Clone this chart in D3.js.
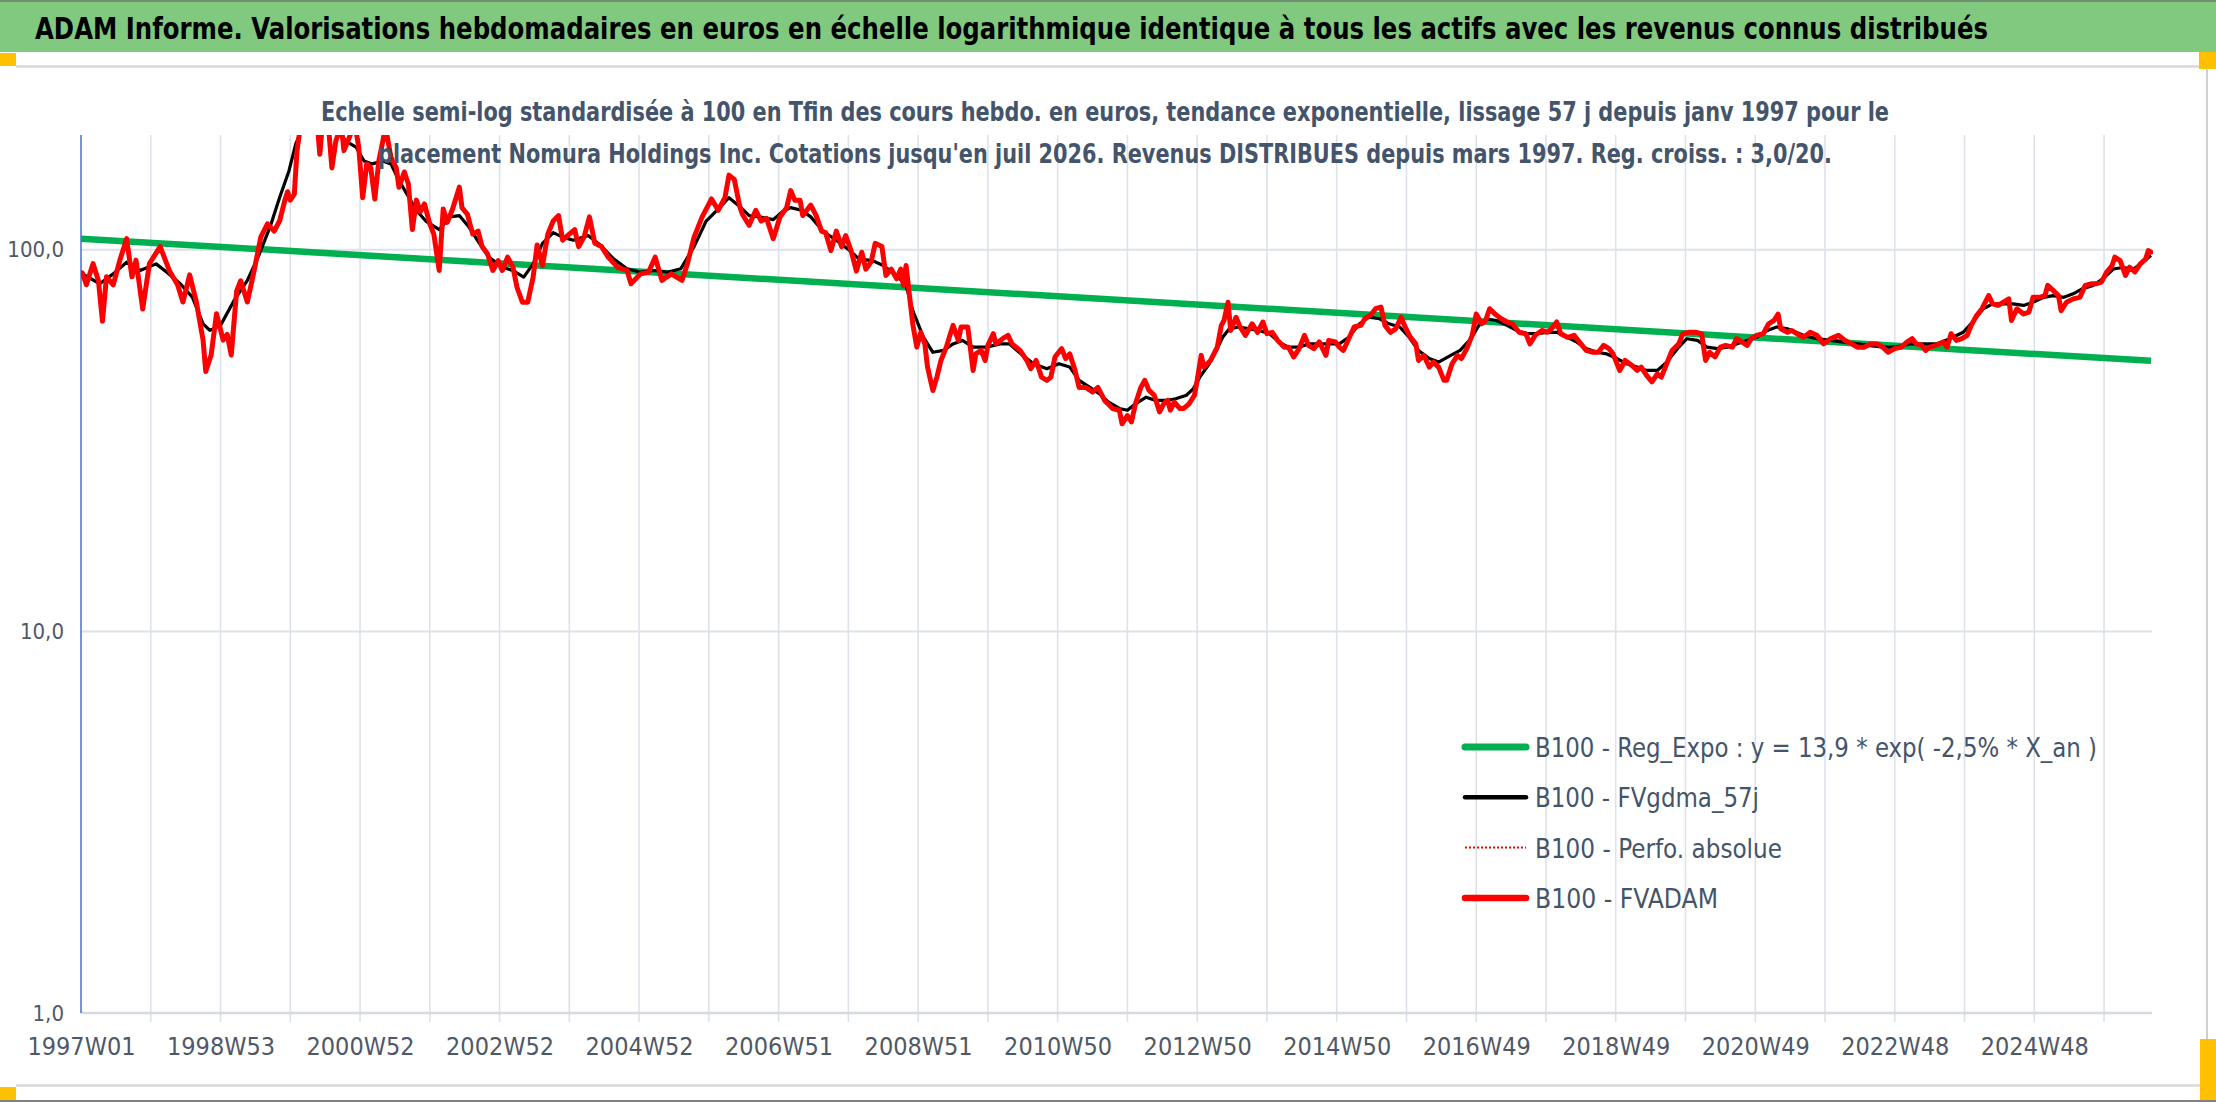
<!DOCTYPE html>
<html>
<head>
<meta charset="utf-8">
<script src="https://cdn.jsdelivr.net/npm/d3@7"></script>
<style>
  html, body { margin: 0; padding: 0; background: #ffffff; }
  svg { display: block; }
</style>
</head>
<body>
<svg id="chart" width="2216" height="1102"></svg>
<script>
// ---------------- DATA ----------------
const titleText = "ADAM Informe. Valorisations hebdomadaires en euros en échelle logarithmique identique à tous les actifs avec les revenus connus distribués";
const subtitleLines = [
  "Echelle semi-log standardisée à 100 en Tfin des cours hebdo. en euros, tendance exponentielle, lissage 57 j depuis janv 1997 pour le",
  "placement Nomura Holdings Inc. Cotations jusqu'en juil 2026. Revenus DISTRIBUES depuis mars 1997. Reg. croiss. : 3,0/20."
];
const legendLabels = [
  "B100 - Reg_Expo : y = 13,9 * exp( -2,5% *  X_an )",
  "B100 - FVgdma_57j",
  "B100 - Perfo. absolue",
  "B100 - FVADAM"
];
const nWeeks = 1544;                 // weekly categories 1997W01 .. 2026W30
const labelEvery = 104;              // category label interval
const gridEvery = 52;                // tick mark interval
const xTickLabels = ["1997W01","1998W53","2000W52","2002W52","2004W52","2006W51","2008W51",
  "2010W50","2012W50","2014W50","2016W49","2018W49","2020W49","2022W48","2024W48"];
const yTicks = [1, 10, 100];
const yDomain = [1, 200];

// exponential regression (values at first and last week)
const regExpo = [[0, 107], [1543, 51.2]];

// smoothed series FVgdma_57j : [week index, value]
const fvgdma = [[0,86],[1,86.5],[14,81.5],[24,86.5],[34,92.8],[44,88.3],[56,91.9],[64,87.4],[74,81.5],[83,75.2],[91,64],[96,61.5],[104,63.4],[114,73.6],[124,83.2],[132,95.7],[141,115],[148,137],[155,161],[160,189],[164,205],[172,218],[180,225],[188,220],[197,193],[205,186],[211,171],[217,168],[225,171],[231,168],[237,152],[243,140],[250,127],[257,119],[267,113],[275,122],[282,123],[289,115],[297,104],[304,95.7],[314,90],[322,88.3],[330,84.8],[337,91.9],[344,104],[352,111],[359,108],[367,106],[378,109],[387,103],[397,94.7],[407,89.2],[417,87.4],[427,88.3],[437,87.4],[447,89.2],[457,102],[466,119],[476,129],[483,137],[491,130],[498,123],[506,122],[516,120],[523,126],[529,129],[537,127],[544,122],[553,112],[563,106],[573,99.6],[580,94.6],[590,93.7],[598,91],[608,85.7],[615,80.7],[620,69.3],[628,59],[635,53.9],[643,54.5],[650,56.7],[657,57.9],[665,55.6],[675,55.6],[685,56.7],[692,56.7],[702,52.9],[710,50.3],[720,48.8],[729,50.3],[737,49.3],[744,45.5],[752,43.6],[759,42],[766,39.9],[774,38.4],[780,38],[786,39.5],[794,41.1],[801,40.3],[809,40.3],[816,40.7],[824,41.6],[829,43.2],[834,46.4],[841,50.3],[847,55.1],[851,59],[856,62.1],[863,62.8],[871,62.1],[878,61.5],[886,60.3],[893,57.3],[900,55.6],[908,55.6],[915,56.7],[923,56.7],[930,56.7],[938,56.7],[945,59],[953,64],[960,66.6],[968,66],[975,64],[983,62.8],[990,59],[997,54.5],[1005,51.9],[1012,50.8],[1021,52.9],[1028,54.5],[1036,58.5],[1042,63.4],[1048,65.9],[1055,65.3],[1063,63.4],[1070,61.5],[1078,60.3],[1085,60.3],[1093,60.8],[1100,60.8],[1108,59],[1115,57.3],[1122,55.1],[1130,53.9],[1137,53.4],[1145,51.9],[1152,50.3],[1160,49.3],[1167,48.3],[1175,48.3],[1182,50.8],[1190,55.1],[1197,58.5],[1205,57.9],[1212,55.6],[1220,55.1],[1227,55.6],[1234,56.7],[1242,57.9],[1249,59],[1257,61.5],[1264,62.8],[1272,62.1],[1284,59.7],[1294,58.5],[1304,57.9],[1314,57.3],[1324,56.7],[1334,56.2],[1343,55.6],[1353,55.6],[1363,56.7],[1373,56.7],[1383,56.7],[1393,58.5],[1403,60.8],[1411,65.3],[1418,70.1],[1425,72.2],[1433,72.2],[1440,72.2],[1448,71.5],[1455,72.9],[1463,75.1],[1470,75.9],[1478,75.1],[1485,76.7],[1492,79.1],[1500,80.7],[1507,84],[1515,89.1],[1522,89.9],[1530,89.1],[1537,92.9],[1543,96.6]];

// FVADAM weekly valuation : [week index, value]
const fvadam = [[0,86],[1,87],[4,81],[9,92],[13,83],[16,65],[19,85],[24,81],[29,94],[34,107],[38,85],[41,94],[46,70],[51,92],[59,102],[66,88],[72,81],[76,73],[81,86],[86,73],[91,58],[93,48],[97,53],[101,68],[106,58],[109,60],[112,53],[116,78],[119,83],[124,73],[129,88],[134,108],[139,117],[144,112],[148,119],[152,135],[154,142],[156,135],[159,140],[161,182],[164,215],[168,235],[172,225],[175,240],[178,178],[180,215],[185,200],[187,164],[190,193],[194,212],[196,182],[200,197],[204,215],[207,186],[210,137],[213,168],[216,164],[219,136],[222,171],[225,193],[227,210],[231,175],[235,164],[237,146],[241,160],[244,149],[247,113],[250,135],[253,126],[256,132],[260,117],[263,110],[267,88.3],[270,128],[273,118],[277,128],[282,146],[284,129],[288,124],[292,110],[296,112],[299,102],[303,97.7],[307,88.3],[311,93.7],[314,88.3],[318,95.7],[322,90.1],[325,79.8],[329,72.9],[333,72.9],[337,84.8],[340,103],[344,91],[348,110],[352,119],[356,123],[359,106],[364,110],[368,113],[371,102],[375,108],[379,122],[383,104],[388,102],[393,95.7],[400,90],[407,88.3],[410,81.5],[417,86.5],[423,87.4],[428,95.7],[433,83.2],[440,86.5],[448,83.2],[452,91.9],[457,108],[463,122],[470,136],[475,127],[480,137],[483,157],[487,153],[491,130],[493,124],[498,116],[503,127],[507,119],[511,121],[516,107],[521,122],[526,129],[529,143],[532,135],[536,135],[538,123],[541,127],[544,131],[548,123],[552,112],[555,111],[559,99.6],[563,112],[567,102],[570,109],[574,99.6],[578,88],[582,98.6],[585,89],[589,93],[592,104],[597,102],[600,85.7],[604,89],[608,84],[611,89],[613,80.7],[615,91],[618,73.6],[620,64],[623,55.6],[626,60.8],[629,56.7],[631,49.3],[635,42.8],[638,46.4],[641,51.3],[645,55.6],[650,63.4],[654,57.9],[656,62.8],[661,62.8],[665,48.3],[667,53.4],[671,54.5],[674,51.3],[676,56.2],[680,60.3],[682,56.7],[687,58.5],[691,59.7],[694,56.7],[700,54.5],[705,51.3],[708,48.8],[712,51.3],[716,46.4],[720,45.5],[723,46.4],[726,52.4],[731,55.1],[734,51.9],[737,53.4],[741,48.3],[744,43.6],[749,43.6],[754,42.4],[758,43.6],[763,40.3],[769,38.4],[774,38],[776,35],[780,36.8],[783,35.4],[786,39.5],[790,43.6],[793,45.5],[796,42.9],[800,41.6],[804,37.6],[807,39.5],[810,40.3],[812,38],[815,39.9],[819,38.4],[822,38.4],[826,39.5],[830,41.6],[832,45.5],[835,52.9],[837,49.3],[842,51.3],[847,55.6],[850,63.4],[852,65.3],[855,72.9],[857,61.5],[861,66.6],[864,62.8],[868,59.7],[873,64],[877,60.8],[881,64.7],[884,60.3],[888,60.8],[892,57.9],[897,55.6],[900,55.6],[904,52.4],[908,55.1],[912,59.7],[915,56.2],[919,55.1],[923,57.4],[928,52.9],[930,57.9],[935,57.4],[938,55.6],[941,54.5],[945,58.5],[949,62.8],[954,63.4],[957,66],[962,67.9],[965,70.1],[969,70.8],[972,63.4],[976,60.8],[980,62.1],[984,66.6],[987,62.8],[991,59],[995,56.7],[997,51.3],[1001,52.9],[1005,49.3],[1008,50.8],[1012,49.3],[1016,45.5],[1018,45.5],[1022,50.3],[1026,52.9],[1029,51.9],[1033,55.1],[1037,59.7],[1040,67.9],[1044,64],[1047,65.3],[1050,70.1],[1054,67.9],[1059,65.9],[1063,64.7],[1067,64],[1072,60.8],[1077,60.3],[1080,56.7],[1084,59.7],[1089,61.5],[1093,60.8],[1096,62.1],[1100,64.7],[1103,60.3],[1108,59],[1113,59.7],[1118,56.7],[1122,54.5],[1127,53.9],[1131,53.9],[1135,56.2],[1139,55.1],[1142,53.4],[1147,48.3],[1151,51.3],[1156,49.8],[1160,48.3],[1163,49.3],[1167,46.9],[1171,45.1],[1175,47.3],[1178,46.4],[1182,50.3],[1186,54.5],[1191,56.7],[1194,60.3],[1199,60.8],[1204,60.8],[1208,60.3],[1211,51.3],[1214,53.9],[1218,52.4],[1222,55.6],[1226,56.2],[1231,55.6],[1234,58.5],[1238,57.4],[1242,56.2],[1245,58.5],[1249,59.7],[1254,60.3],[1258,64],[1262,65.3],[1265,67.9],[1267,62.1],[1272,60.8],[1275,61.5],[1279,60.3],[1284,59],[1289,60.8],[1294,59.7],[1299,56.7],[1304,58.5],[1310,59.7],[1315,57.9],[1320,56.7],[1324,55.6],[1329,55.6],[1334,56.7],[1339,56.7],[1343,55.6],[1347,53.9],[1352,55.1],[1357,55.6],[1361,57.3],[1365,58.5],[1368,56.7],[1372,56.2],[1375,54.5],[1378,55.6],[1383,56.2],[1388,57.3],[1391,55.6],[1394,60.3],[1398,57.9],[1402,58.5],[1406,59.7],[1409,63.4],[1413,67.3],[1417,70.1],[1422,75.9],[1425,72.2],[1429,71.5],[1433,72.9],[1437,74.4],[1439,65.3],[1443,70.1],[1448,67.9],[1452,68.7],[1455,75.1],[1460,75.1],[1464,75.9],[1466,80.7],[1470,78.3],[1474,75.9],[1476,69.3],[1480,72.9],[1485,74.4],[1490,75.1],[1494,80.7],[1499,81.5],[1502,81.5],[1506,82.3],[1510,87.5],[1514,91],[1516,95.7],[1520,93.7],[1524,85.7],[1527,90.1],[1531,87.5],[1535,91.9],[1539,94.6],[1541,99.6],[1543,98.6]];

// ---------------- LAYOUT ----------------
const W = 2216, H = 1102;
const plot = { left: 81, right: 2151, top: 135, bottom: 1013 };
const narrow = '"Liberation Sans Narrow","Arial Narrow","DejaVu Sans Condensed",sans-serif';
const slate = "#44546A";

const svg = d3.select("#chart");

// frame / banner
svg.append("rect").attr("x",0).attr("y",0).attr("width",W).attr("height",H).attr("fill","#ffffff");
svg.append("rect").attr("x",0).attr("y",0).attr("width",W).attr("height",52).attr("fill","#80C97F");
svg.append("rect").attr("x",0).attr("y",0).attr("width",W).attr("height",2).attr("fill","#6f8f6f");
svg.append("text").attr("x",35).attr("y",39)
  .attr("font-family",narrow).attr("font-size",30).attr("font-weight","bold").attr("fill","#000")
  .attr("textLength",1953).attr("lengthAdjust","spacingAndGlyphs").text(titleText);

// chart area borders
svg.append("line").attr("x1",16).attr("x2",2207).attr("y1",66.5).attr("y2",66.5).attr("stroke","#d9d9d9").attr("stroke-width",2.5);
svg.append("line").attr("x1",16).attr("x2",2207).attr("y1",1085.5).attr("y2",1085.5).attr("stroke","#d9d9d9").attr("stroke-width",2.5);
svg.append("line").attr("x1",2207).attr("x2",2207).attr("y1",66).attr("y2",1086).attr("stroke","#d0d0d0").attr("stroke-width",2);
svg.append("rect").attr("x",0).attr("y",1100).attr("width",W).attr("height",2).attr("fill","#808080");
// selection handles
const handles = [[0,53,16,13],[2199,52,17,17],[0,1087,16,13],[2200,1039,16,61]];
svg.selectAll("rect.handle").data(handles).join("rect").attr("class","handle")
  .attr("x",d=>d[0]).attr("y",d=>d[1]).attr("width",d=>d[2]).attr("height",d=>d[3]).attr("fill","#FFC000");

// scales
const x = d3.scaleLinear().domain([0, nWeeks - 1]).range([plot.left, plot.right]);
const y = d3.scaleLog().domain(yDomain).range([plot.bottom, plot.top]);

// vertical gridlines + tick marks
const gridIdx = d3.range(gridEvery, nWeeks, gridEvery);
svg.append("g").selectAll("line").data(gridIdx).join("line")
  .attr("x1",d=>x(d)).attr("x2",d=>x(d)).attr("y1",plot.top).attr("y2",plot.bottom + 9)
  .attr("stroke","#DDE2EA").attr("stroke-width",1.6);
// horizontal gridlines
svg.append("g").selectAll("line").data(yTicks).join("line")
  .attr("x1",plot.left).attr("x2",plot.right + 1).attr("y1",d=>y(d)).attr("y2",d=>y(d))
  .attr("stroke",d=> d === yDomain[0] ? "#D6DAE0" : "#DDE2EA").attr("stroke-width",d=> d === yDomain[0] ? 2.6 : 2);
// left axis line
svg.append("line").attr("x1",plot.left).attr("x2",plot.left).attr("y1",plot.top).attr("y2",plot.bottom)
  .attr("stroke","#4472C4").attr("stroke-width",1.5);

// axes labels
const xAxis = d3.axisBottom(x).tickValues(d3.range(0, nWeeks, labelEvery))
  .tickFormat((d,i)=>xTickLabels[i]).tickSize(0).tickPadding(0);
const gx = svg.append("g").attr("transform",`translate(0,${plot.bottom})`).call(xAxis);
gx.select(".domain").remove();
gx.selectAll("text").attr("font-family",narrow).attr("font-size",25).attr("fill","#4F5866")
  .attr("dy",null).attr("y",42);

const yAxis = d3.axisLeft(y).tickValues(yTicks)
  .tickFormat(d=>d3.format(".1f")(d).replace(".",",")).tickSize(0).tickPadding(17);
const gy = svg.append("g").attr("transform",`translate(${plot.left},0)`).call(yAxis);
gy.select(".domain").remove();
gy.selectAll("text").attr("font-family",narrow).attr("font-size",22).attr("fill","#4F5866");

// series
svg.append("clipPath").attr("id","plotclip").append("rect")
  .attr("x",plot.left).attr("y",plot.top).attr("width",plot.right - plot.left + 2).attr("height",plot.bottom - plot.top);
const line = d3.line().x(d=>x(d[0])).y(d=>y(d[1]));
const series = svg.append("g").attr("clip-path","url(#plotclip)");
series.append("path").attr("d",line(regExpo)).attr("fill","none").attr("stroke","#00B050").attr("stroke-width",6.5);
series.append("path").attr("d",line(fvgdma)).attr("fill","none").attr("stroke","#000").attr("stroke-width",3.2)
  .attr("stroke-linejoin","round");
series.append("path").attr("d",line(fvadam)).attr("fill","none").attr("stroke","#FF0000").attr("stroke-width",5)
  .attr("stroke-linejoin","round").attr("stroke-linecap","round");

// subtitle (over plot)
const subPos = [[321,121,1568],[378,163,1454]];
svg.append("g").selectAll("text").data(subtitleLines).join("text")
  .attr("x",(d,i)=>subPos[i][0]).attr("y",(d,i)=>subPos[i][1])
  .attr("textLength",(d,i)=>subPos[i][2]).attr("lengthAdjust","spacingAndGlyphs")
  .attr("font-family",narrow).attr("font-size",27).attr("font-weight","bold").attr("fill",slate)
  .text(d=>d);

// legend
const legStyles = [
  {stroke:"#00B050", width:7, dash:null, cap:"round"},
  {stroke:"#000000", width:4.5, dash:null, cap:"round"},
  {stroke:"#FF0000", width:2, dash:"2,2", cap:"butt"},
  {stroke:"#FF0000", width:6.5, dash:null, cap:"round"}
];
const legLen = [562, 224, 247, 183];
const leg = svg.append("g").selectAll("g").data(legendLabels).join("g")
  .attr("transform",(d,i)=>`translate(0,${747 + i*50.3})`);
leg.append("line").attr("x1",1465).attr("x2",1526).attr("y1",0).attr("y2",0)
  .attr("stroke",(d,i)=>legStyles[i].stroke).attr("stroke-width",(d,i)=>legStyles[i].width)
  .attr("stroke-dasharray",(d,i)=>legStyles[i].dash).attr("stroke-linecap",(d,i)=>legStyles[i].cap);
leg.append("text").attr("x",1535).attr("y",10)
  .attr("font-family",narrow).attr("font-size",27).attr("fill",slate)
  .attr("textLength",(d,i)=>legLen[i]).attr("lengthAdjust","spacingAndGlyphs")
  .text(d=>d);
</script>
</body>
</html>
